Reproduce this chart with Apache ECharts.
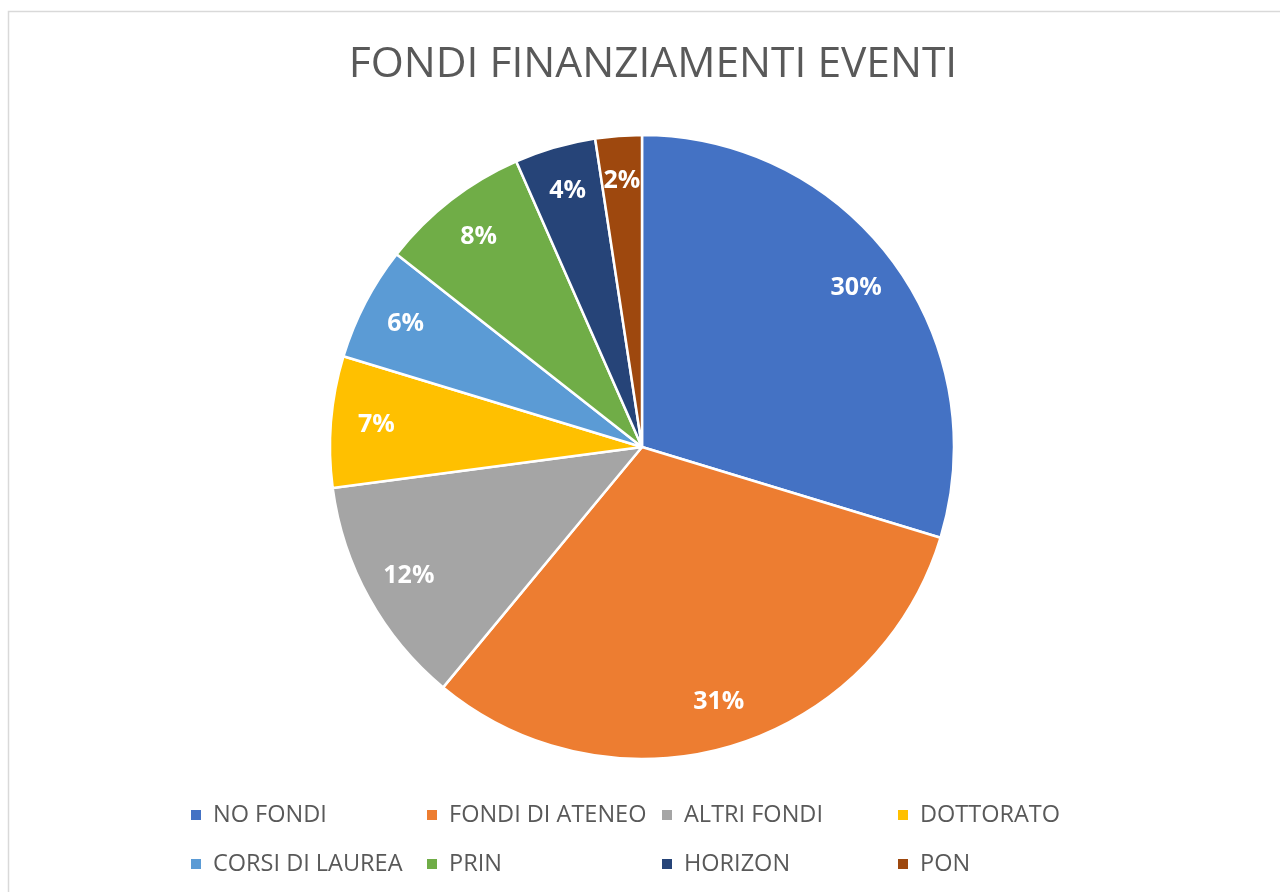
<!DOCTYPE html>
<html>
<head>
<meta charset="utf-8">
<title>FONDI FINANZIAMENTI EVENTI</title>
<script src="https://cdn.jsdelivr.net/npm/echarts@6/dist/echarts.min.js"></script>
<style>
  html, body { margin: 0; padding: 0; background: #fff; }
  #chart { width: 1280px; height: 892px; }
</style>
</head>
<body>
<div id="chart"></div>
<script>
// dati
var categories = ["NO FONDI", "FONDI DI ATENEO", "ALTRI FONDI", "DOTTORATO",
                  "CORSI DI LAUREA", "PRIN", "HORIZON", "PON"];
var values = [29.7, 31.3, 11.9, 6.8, 5.9, 7.8, 4.2, 2.4];
var colors = ["#4472C4", "#ED7D31", "#A5A5A5", "#FFC000",
              "#5B9BD5", "#70AD47", "#264478", "#9E480E"];

// layout legenda: 4 colonne, 2 righe
var legendCols = [191, 427, 662, 898];
var legendRows = [803, 852];

var pieData = categories.map(function (name, i) {
  return { name: name, value: values[i] };
});

var legends = categories.map(function (name, i) {
  return {
    data: [name],
    left: legendCols[i % 4],
    top: legendRows[Math.floor(i / 4)],
    padding: 0,
    itemWidth: 10,
    itemHeight: 10,
    icon: "rect",
    selectedMode: false,
    itemStyle: { borderWidth: 0 },
    textStyle: {
      fontFamily: "Open Sans",
      fontSize: 23.5,
      color: "#595959",
      padding: [0, 0, 0, 7]
    }
  };
});

var chart = echarts.init(document.getElementById("chart"));
chart.setOption({
  animation: false,
  color: colors,
  title: {
    text: "FONDI FINANZIAMENTI EVENTI",
    left: 648,
    textAlign: "center",
    top: 38,
    textStyle: {
      fontFamily: "Open Sans",
      fontWeight: "normal",
      fontSize: 42.5,
      color: "#595959"
    }
  },
  legend: legends,
  graphic: [{
    type: "rect",
    shape: { x: 8.5, y: 11.5, width: 1400, height: 1000 },
    style: { fill: null, stroke: "#d9d9d9", lineWidth: 1.5 },
    silent: true
  }],
  series: [
    {
      // torta visibile
      type: "pie",
      center: [642, 447],
      radius: [0, 312],
      startAngle: 90,
      clockwise: true,
      data: pieData,
      itemStyle: { borderColor: "#fff", borderWidth: 2.5 },
      label: { show: false },
      labelLine: { show: false },
      emphasis: { disabled: true }
    },
    {
      // anello trasparente solo per le etichette
      type: "pie",
      center: [642, 447],
      radius: [215, 312],
      startAngle: 90,
      clockwise: true,
      silent: true,
      percentPrecision: 0,
      data: pieData,
      itemStyle: { color: "transparent", borderWidth: 0 },
      label: {
        show: true,
        position: "inside",
        formatter: "{d}%",
        fontFamily: "Open Sans",
        fontWeight: "bold",
        fontSize: 25,
        color: "#fff"
      },
      labelLine: { show: false },
      emphasis: { disabled: true }
    }
  ]
});
</script>
</body>
</html>
